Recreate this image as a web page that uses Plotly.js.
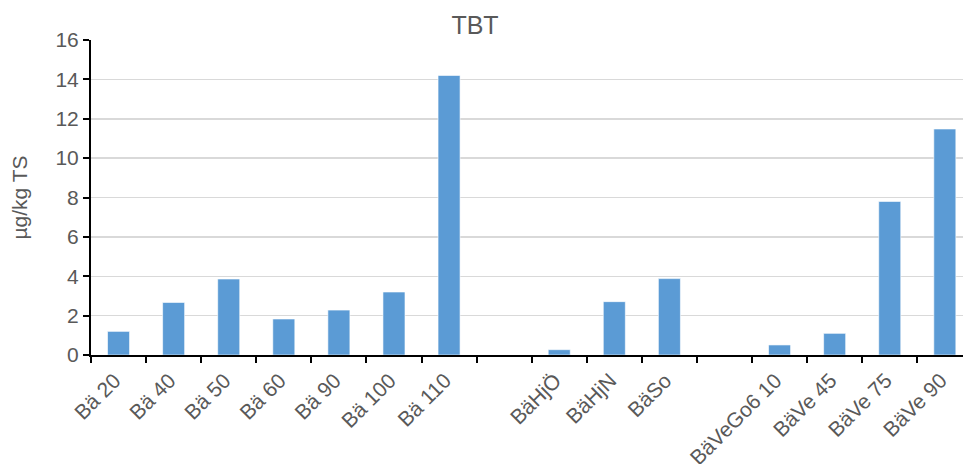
<!DOCTYPE html>
<html>
<head>
<meta charset="utf-8">
<script src="https://cdn.plot.ly/plotly-3.0.1.min.js"></script>
<style>html,body{margin:0;padding:0;background:#fff;}#chart{width:963px;height:464px;}</style>
</head>
<body>
<div id="chart"></div>
<script>
// Categories (blank strings are the gaps between sample groups)
const categories = ["Bä 20", "Bä 40", "Bä 50", "Bä 60", "Bä 90", "Bä 100", "Bä 110", " ",
                    "BäHjÖ", "BäHjN", "BäSo", "  ",
                    "BäVeGo6 10", "BäVe 45", "BäVe 75", "BäVe 90"];
const tbtValues = [1.2, 2.67, 3.86, 1.83, 2.28, 3.2, 14.2, null,
                   0.27, 2.71, 3.88, null,
                   0.51, 1.1, 7.8, 11.48];
const yTicks = [0, 2, 4, 6, 8, 10, 12, 14, 16];
const chartTitle = "TBT";
const yTitle = "µg/kg TS";

const gray = "#595959";
const fontFam = "Liberation Sans, Arial, sans-serif";

const trace = {
  type: "bar",
  x: categories,
  y: tbtValues,
  marker: {color: "#5b9bd5", line: {color: "rgba(255,255,255,0.6)", width: 1}},
  hoverinfo: "x+y"
};

const layout = {
  width: 963, height: 464,
  margin: {l: 91, r: 0, t: 40, b: 109, pad: 0},
  paper_bgcolor: "#fff", plot_bgcolor: "#fff",
  bargap: 0.6,
  showlegend: false,
  font: {family: fontFam, color: gray, size: 20},
  title: {text: chartTitle, x: 475/963, xref: "container", xanchor: "center",
          y: 1 - 25/464, yref: "container", yanchor: "middle",
          font: {family: fontFam, size: 25, color: gray}},
  xaxis: {
    type: "category",
    categoryorder: "array", categoryarray: categories,
    range: [-0.5, 15.33],
    tickson: "boundaries",
    ticks: "outside", ticklen: 6, tickwidth: 2, tickcolor: "#000",
    showline: true, linecolor: "#000", linewidth: 2,
    showgrid: false, zeroline: false,
    tickangle: -45,
    ticklabelshift: -4,
    ticklabelstandoff: 3,
    tickfont: {family: fontFam, size: 21, color: gray},
    automargin: false
  },
  yaxis: {
    range: [0, 16],
    tickvals: yTicks,
    ticktext: yTicks.map(String),
    ticks: "outside", ticklen: 6, tickwidth: 2, tickcolor: "#000",
    showline: true, linecolor: "#000", linewidth: 2,
    showgrid: true, gridcolor: "#d9d9d9", gridwidth: 1.5,
    zeroline: false,
    tickfont: {family: fontFam, size: 21, color: gray},
    title: {text: yTitle, standoff: 22, font: {family: fontFam, size: 21, color: gray}},
    automargin: false
  }
};

Plotly.newPlot("chart", [trace], layout, {displayModeBar: false, staticPlot: true});
</script>
</body>
</html>
